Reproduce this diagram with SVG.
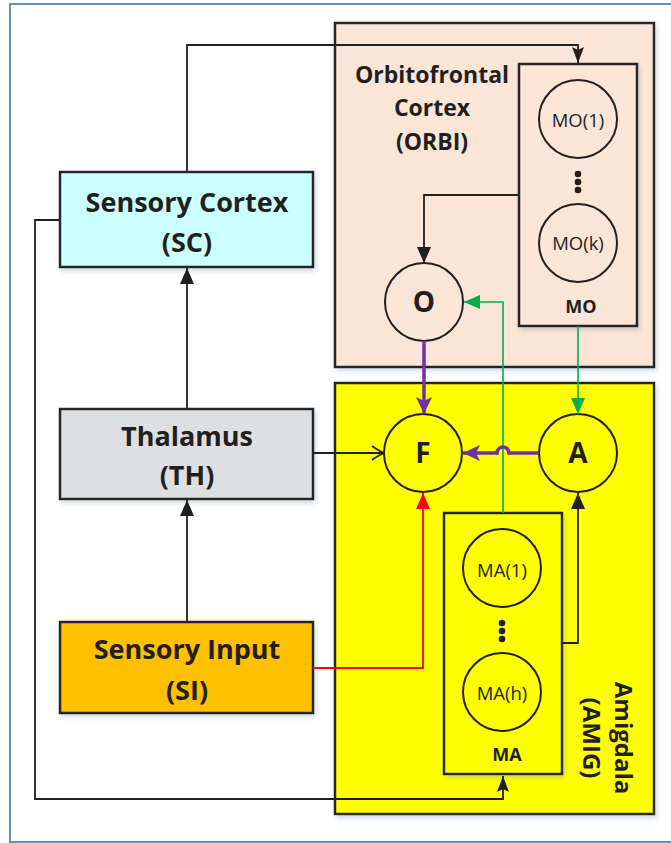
<svg xmlns="http://www.w3.org/2000/svg" width="671" height="843" viewBox="0 0 671 843">
<style>
.box{stroke:#262626;stroke-width:2.5}
.circ{fill:none;stroke:#231F20;stroke-width:2}
.lbl{font-family:"Open Sans","DejaVu Sans",sans-serif;font-weight:bold;fill:#231F20;text-anchor:middle}
.sm{font-family:"Open Sans","DejaVu Sans",sans-serif;font-size:18.5px;fill:#231F20;text-anchor:middle}
.blk{fill:none;stroke:#231F20;stroke-width:1.8}
.grn{fill:none;stroke:#00B050;stroke-width:1.6}
.pur{fill:none;stroke:#7030A0;stroke-width:3.5}
.red{fill:none;stroke:#FF0000;stroke-width:1.8}
</style>
<defs>
<filter id="sh" x="-10%" y="-10%" width="130%" height="130%">
<feDropShadow dx="2" dy="3" stdDeviation="2.5" flood-color="#8497B0" flood-opacity="0.35"/>
</filter>
<marker id="ab" markerWidth="16" markerHeight="14" refX="16" refY="7" orient="auto" markerUnits="userSpaceOnUse"><path d="M0,0 L16,7 L0,14 z" fill="#231F20"/></marker>
<marker id="as" markerWidth="16" markerHeight="12" refX="16" refY="6" orient="auto" markerUnits="userSpaceOnUse"><path d="M0,0 L16,6 L0,12 L3,6 z" fill="#231F20"/></marker>
<marker id="ao" markerWidth="14" markerHeight="16" refX="13" refY="8" orient="auto" markerUnits="userSpaceOnUse"><path d="M1,1 Q8,6 13,8 Q8,10 1,15" fill="none" stroke="#231F20" stroke-width="1.8"/></marker>
<marker id="ag" markerWidth="16" markerHeight="14" refX="16" refY="7" orient="auto" markerUnits="userSpaceOnUse"><path d="M0,0 L16,7 L0,14 z" fill="#00B050"/></marker>
<marker id="ap" markerWidth="17" markerHeight="16" refX="17" refY="8" orient="auto" markerUnits="userSpaceOnUse"><path d="M0,0 L17,8 L0,16 L4,8 z" fill="#7030A0"/></marker>
<marker id="ar" markerWidth="16" markerHeight="14" refX="16" refY="7" orient="auto" markerUnits="userSpaceOnUse"><path d="M0,0 L16,7 L0,14 z" fill="#FF0000"/></marker>
</defs>
<rect x="0" y="0" width="671" height="843" fill="#FFFFFF"/>
<rect x="10" y="4" width="690" height="838" fill="none" stroke="#6A8CB8" stroke-width="2"/>

<g id="orbi">
<rect class="box" x="335" y="23" width="319" height="344" fill="#FBE5D6" filter="url(#sh)"/>
<text class="lbl" font-size="23" x="432" y="83">Orbitofrontal</text>
<text class="lbl" font-size="23" x="432" y="116">Cortex</text>
<text class="lbl" font-size="23" x="432" y="150">(ORBI)</text>
</g>
<g id="amig">
<rect class="box" x="335" y="383" width="319" height="431" fill="#FFFF00" filter="url(#sh)"/>
<text class="lbl" font-size="24" transform="translate(615,738) rotate(90)">Amigdala</text>
<text class="lbl" font-size="24" transform="translate(583,738) rotate(90)">(AMIG)</text>
</g>

<g id="sc">
<rect class="box" x="60" y="172" width="253" height="95" fill="#CCFFFF" filter="url(#sh)"/>
<text class="lbl" font-size="27" x="187" y="212">Sensory Cortex</text>
<text class="lbl" font-size="27" x="187" y="252">(SC)</text>
</g>
<g id="th">
<rect class="box" x="60" y="409" width="253" height="90" fill="#DEDFE1" filter="url(#sh)"/>
<text class="lbl" font-size="27" x="187" y="446">Thalamus</text>
<text class="lbl" font-size="27" x="187" y="485">(TH)</text>
</g>
<g id="si">
<rect class="box" x="60" y="622" width="253" height="91" fill="#FFC000" filter="url(#sh)"/>
<text class="lbl" font-size="27" x="187" y="659">Sensory Input</text>
<text class="lbl" font-size="27" x="187" y="700">(SI)</text>
</g>

<g id="mo">
<rect class="box" x="519" y="64" width="118" height="262" fill="#FBE5D6" filter="url(#sh)"/>
<circle class="circ" cx="578" cy="119" r="39"/>
<text class="sm" x="578" y="127">MO(1)</text>
<circle cx="578" cy="174" r="3.3" fill="#231F20"/>
<circle cx="578" cy="182" r="3.3" fill="#231F20"/>
<circle cx="578" cy="190" r="3.3" fill="#231F20"/>
<circle class="circ" cx="578" cy="243" r="39"/>
<text class="sm" x="578" y="250">MO(k)</text>
<text class="lbl" font-size="18" x="581" y="313">MO</text>
</g>
<g id="ma">
<rect class="box" x="444" y="513" width="118" height="261" fill="#FFFF00" filter="url(#sh)"/>
<circle class="circ" cx="502" cy="568" r="39"/>
<text class="sm" x="502" y="577">MA(1)</text>
<circle cx="502" cy="623" r="3.3" fill="#231F20"/>
<circle cx="502" cy="631" r="3.3" fill="#231F20"/>
<circle cx="502" cy="639" r="3.3" fill="#231F20"/>
<circle class="circ" cx="502" cy="692" r="39"/>
<text class="sm" x="502" y="700">MA(h)</text>
<text class="lbl" font-size="18" x="507" y="761">MA</text>
</g>
<g id="o">
<circle class="circ" cx="424" cy="302" r="39" fill="#FBE5D6"/>
<text class="lbl" font-size="28" x="424" y="312">O</text>
</g>
<g id="f">
<circle class="circ" cx="423" cy="453" r="39"/>
<text class="lbl" font-size="28" x="423" y="463">F</text>
</g>
<g id="a">
<circle class="circ" cx="578" cy="453" r="39"/>
<text class="lbl" font-size="28" x="578" y="463">A</text>
</g>

<g id="connectors">
<path class="blk" d="M187,172 V45 H578 V63" marker-end="url(#as)"/>
<path class="blk" d="M519,195 H424 V263" marker-end="url(#ab)"/>
<path class="blk" d="M187,409 V268" marker-end="url(#ab)"/>
<path class="blk" d="M187,622 V500" marker-end="url(#ab)"/>
<path class="blk" d="M313,453 H384" marker-end="url(#ao)"/>
<path class="blk" d="M562,643 H578 V493" marker-end="url(#ab)"/>
<path class="blk" d="M60,220 H35 V799 H503 V776" marker-end="url(#as)"/>
<path class="grn" d="M578,326 V414" marker-end="url(#ag)"/>
<path class="grn" d="M503,513 V302 H464" marker-end="url(#ag)"/>
<path class="pur" d="M424,341 V414" marker-end="url(#ap)"/>
<path class="pur" d="M539,453 H509 A6,6 0 0 0 497,453 H463" marker-end="url(#ap)"/>
<path class="red" d="M313,668 H423 V493" marker-end="url(#ar)"/>
</g>
</svg>
